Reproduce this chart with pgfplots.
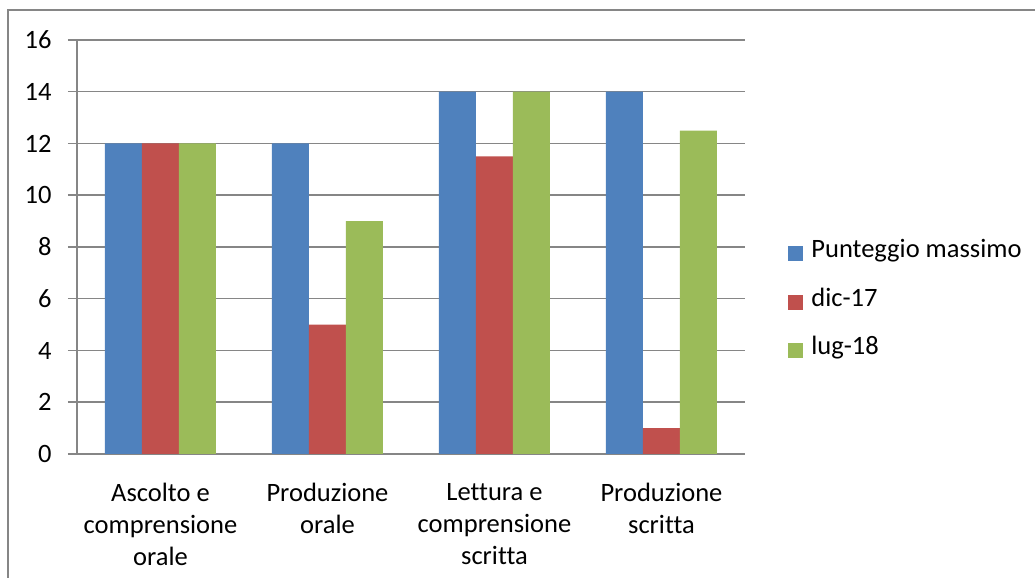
\documentclass[border=0pt]{standalone}
\usepackage{pgfplots}
\pgfplotsset{compat=1.18}
\usepackage{fontspec}
\setmainfont{Carlito}[Ligatures=NoCommon]

\definecolor{serA}{HTML}{4F81BD}
\definecolor{serB}{HTML}{C0504D}
\definecolor{serC}{HTML}{9BBB59}
\definecolor{axgray}{HTML}{868686}

\begin{document}
\begin{tikzpicture}[font=\fontsize{13.25}{16}\selectfont]
% chart area and its frame
\path[use as bounding box] (-38.5pt,-62pt) rectangle (479pt,227pt);
\draw[axgray, line width=0.75pt] (-34.5pt,-62pt) -- (-34.5pt,222pt) -- (479pt,222pt);

\begin{axis}[
  at={(0,0)}, anchor=south west,
  scale only axis,
  width=334pt, height=207pt,
  ybar=0pt, bar width=18.5pt,
  xmin=-0.5, xmax=3.5,
  ymin=0, ymax=16,
  ytick={0,2,...,16},
  xtick={0,1,2,3},
  xticklabels={{Ascolto e\\comprensione\\orale},{Produzione\\orale},{Lettura e\\comprensione\\scritta},{Produzione\\scritta}},
  x tick label style={align=center, inner sep=0pt, yshift=-10pt},
  y tick label style={inner sep=0pt, xshift=-8pt},
  /pgf/number format/assume math mode=true,
  extra x ticks={-0.5,0.5,1.5,2.5,3.5},
  extra x tick labels={},
  extra x tick style={major tick length=4.5pt, tick align=outside, tick pos=lower,
    x tick style={axgray, line width=0.75pt}},
  x tick style={draw=none},
  y tick style={axgray, line width=0.75pt},
  tick align=outside,
  major tick length=4.5pt,
  ytick pos=left,
  axis line style={axgray, line width=0.75pt},
  axis x line*=bottom,
  axis y line*=left,
  ymajorgrids,
  grid style={axgray, line width=0.75pt},
  legend style={
    at={(1.0644,0.367)}, anchor=west,
    draw=none, fill=none, inner sep=0pt,
    row sep=14.25pt,
    nodes={inner sep=0pt, text height=0.72em, text depth=0.28em, anchor=west},
  },
  legend cell align=left,
  legend image code/.code={\fill[#1] (0pt,-3.75pt) rectangle (7.5pt,3.75pt);},
]
\addplot[draw=none, fill=serA] coordinates {(0,12) (1,12) (2,14) (3,14)};
\addplot[draw=none, fill=serB] coordinates {(0,12) (1,5) (2,11.5) (3,1)};
\addplot[draw=none, fill=serC] coordinates {(0,12) (1,9) (2,14) (3,12.5)};
\legend{\hspace{4pt}Punteggio massimo,\hspace{4pt}dic-17,\hspace{4pt}lug-18}
\end{axis}
\end{tikzpicture}
\end{document}
